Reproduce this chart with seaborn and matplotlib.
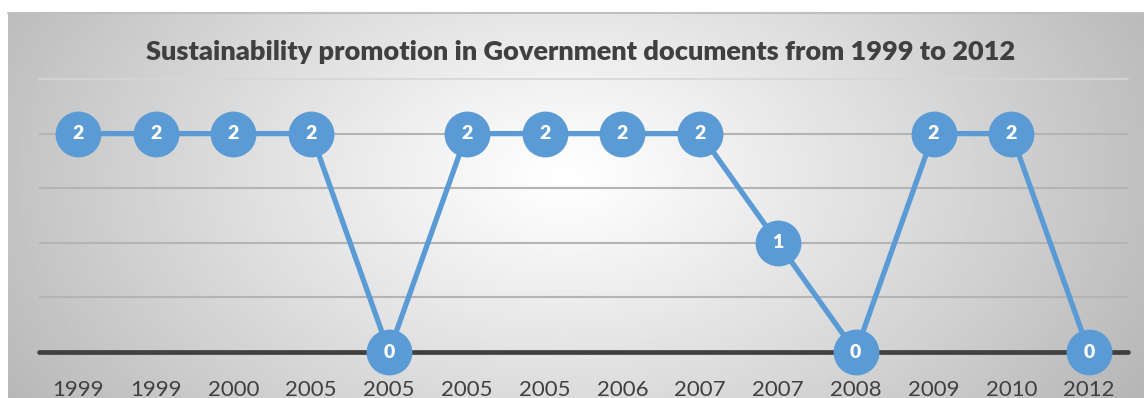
import numpy as np
import pandas as pd
import matplotlib
matplotlib.use("Agg")
import matplotlib.pyplot as plt
import seaborn as sns

years = ["1999", "1999", "2000", "2005", "2005", "2005", "2005", "2006", "2007", "2007", "2008", "2009", "2010", "2012"]
values = [2, 2, 2, 2, 0, 2, 2, 2, 2, 1, 0, 2, 2, 0]
title = "Sustainability promotion in Government documents from 1999 to 2012"

sns.set_style("white")
plt.rcParams['font.family'] = ['Lato', 'DejaVu Sans']

W, H = 1144, 398
fig = plt.figure(figsize=(W / 100, H / 100), dpi=100)
fig.patch.set_facecolor("white")

# gradient background
bg = fig.add_axes([8 / W, 0, 1 - 8 / W, (H - 13) / H])
bg.set_axis_off()
nx, ny = 600, 200
xx, yy = np.meshgrid(np.linspace(-1, 1, nx), np.linspace(-1, 1, ny))
cx, cy = -0.02, -0.15
r = np.sqrt(((xx - cx) / 1.0) ** 2 + ((yy - cy) / 1.9) ** 2)
r = np.clip(r, 0, 1.2)
shade = 1.0 - 0.24 * r ** 1.1
bg.imshow(shade, cmap="gray", vmin=0, vmax=1, aspect="auto", extent=[0, 1, 0, 1], interpolation="bilinear")
bg.set_xlim(0, 1)
bg.set_ylim(0, 1)
bg.plot([0, 1], [1, 1], color="#bfbfbf", lw=1.5, transform=bg.transAxes, clip_on=False)

ax = fig.add_axes([39 / W, (H - 352) / H, (1128 - 39) / W, (352 - 79) / H])
ax.patch.set_alpha(0)
df = pd.DataFrame({"pos": np.arange(len(values)), "value": values})

for yv in [0.5, 1.0, 1.5, 2.0]:
    ax.axhline(yv, color="#b4b4b4", lw=1.5, zorder=1)
ax.axhline(2.5, color="#d6d6d6", lw=1.2, zorder=1, clip_on=False)
ax.axhline(0, color="#404040", lw=3.4, zorder=2, clip_on=False)

sns.lineplot(data=df, x="pos", y="value", ax=ax, color="#5b9bd5", lw=3.8,
             marker="o", markersize=33, markeredgewidth=0, markerfacecolor="#5b9bd5",
             zorder=3, clip_on=False)
for p, v in zip(df["pos"], df["value"]):
    ax.text(p, v, str(v), color="white", fontsize=14, fontweight="heavy",
            ha="center", va="center", zorder=4)

ax.set_xlim(-0.5, len(values) - 0.5)
ax.set_ylim(0, 2.5)
ax.set_xticks(df["pos"])
ax.set_xticklabels(years, fontsize=16, color="#404040")
ax.set_yticks([])
ax.tick_params(axis="x", length=0, pad=20)
ax.set_xlabel("")
ax.set_ylabel("")
for s in ax.spines.values():
    s.set_visible(False)

fig.text(581 / W, 1 - 52 / H, title, ha="center", va="center", fontsize=19.5,
         fontweight="heavy", color="#404040")

fig.savefig("out.png", dpi=100)
